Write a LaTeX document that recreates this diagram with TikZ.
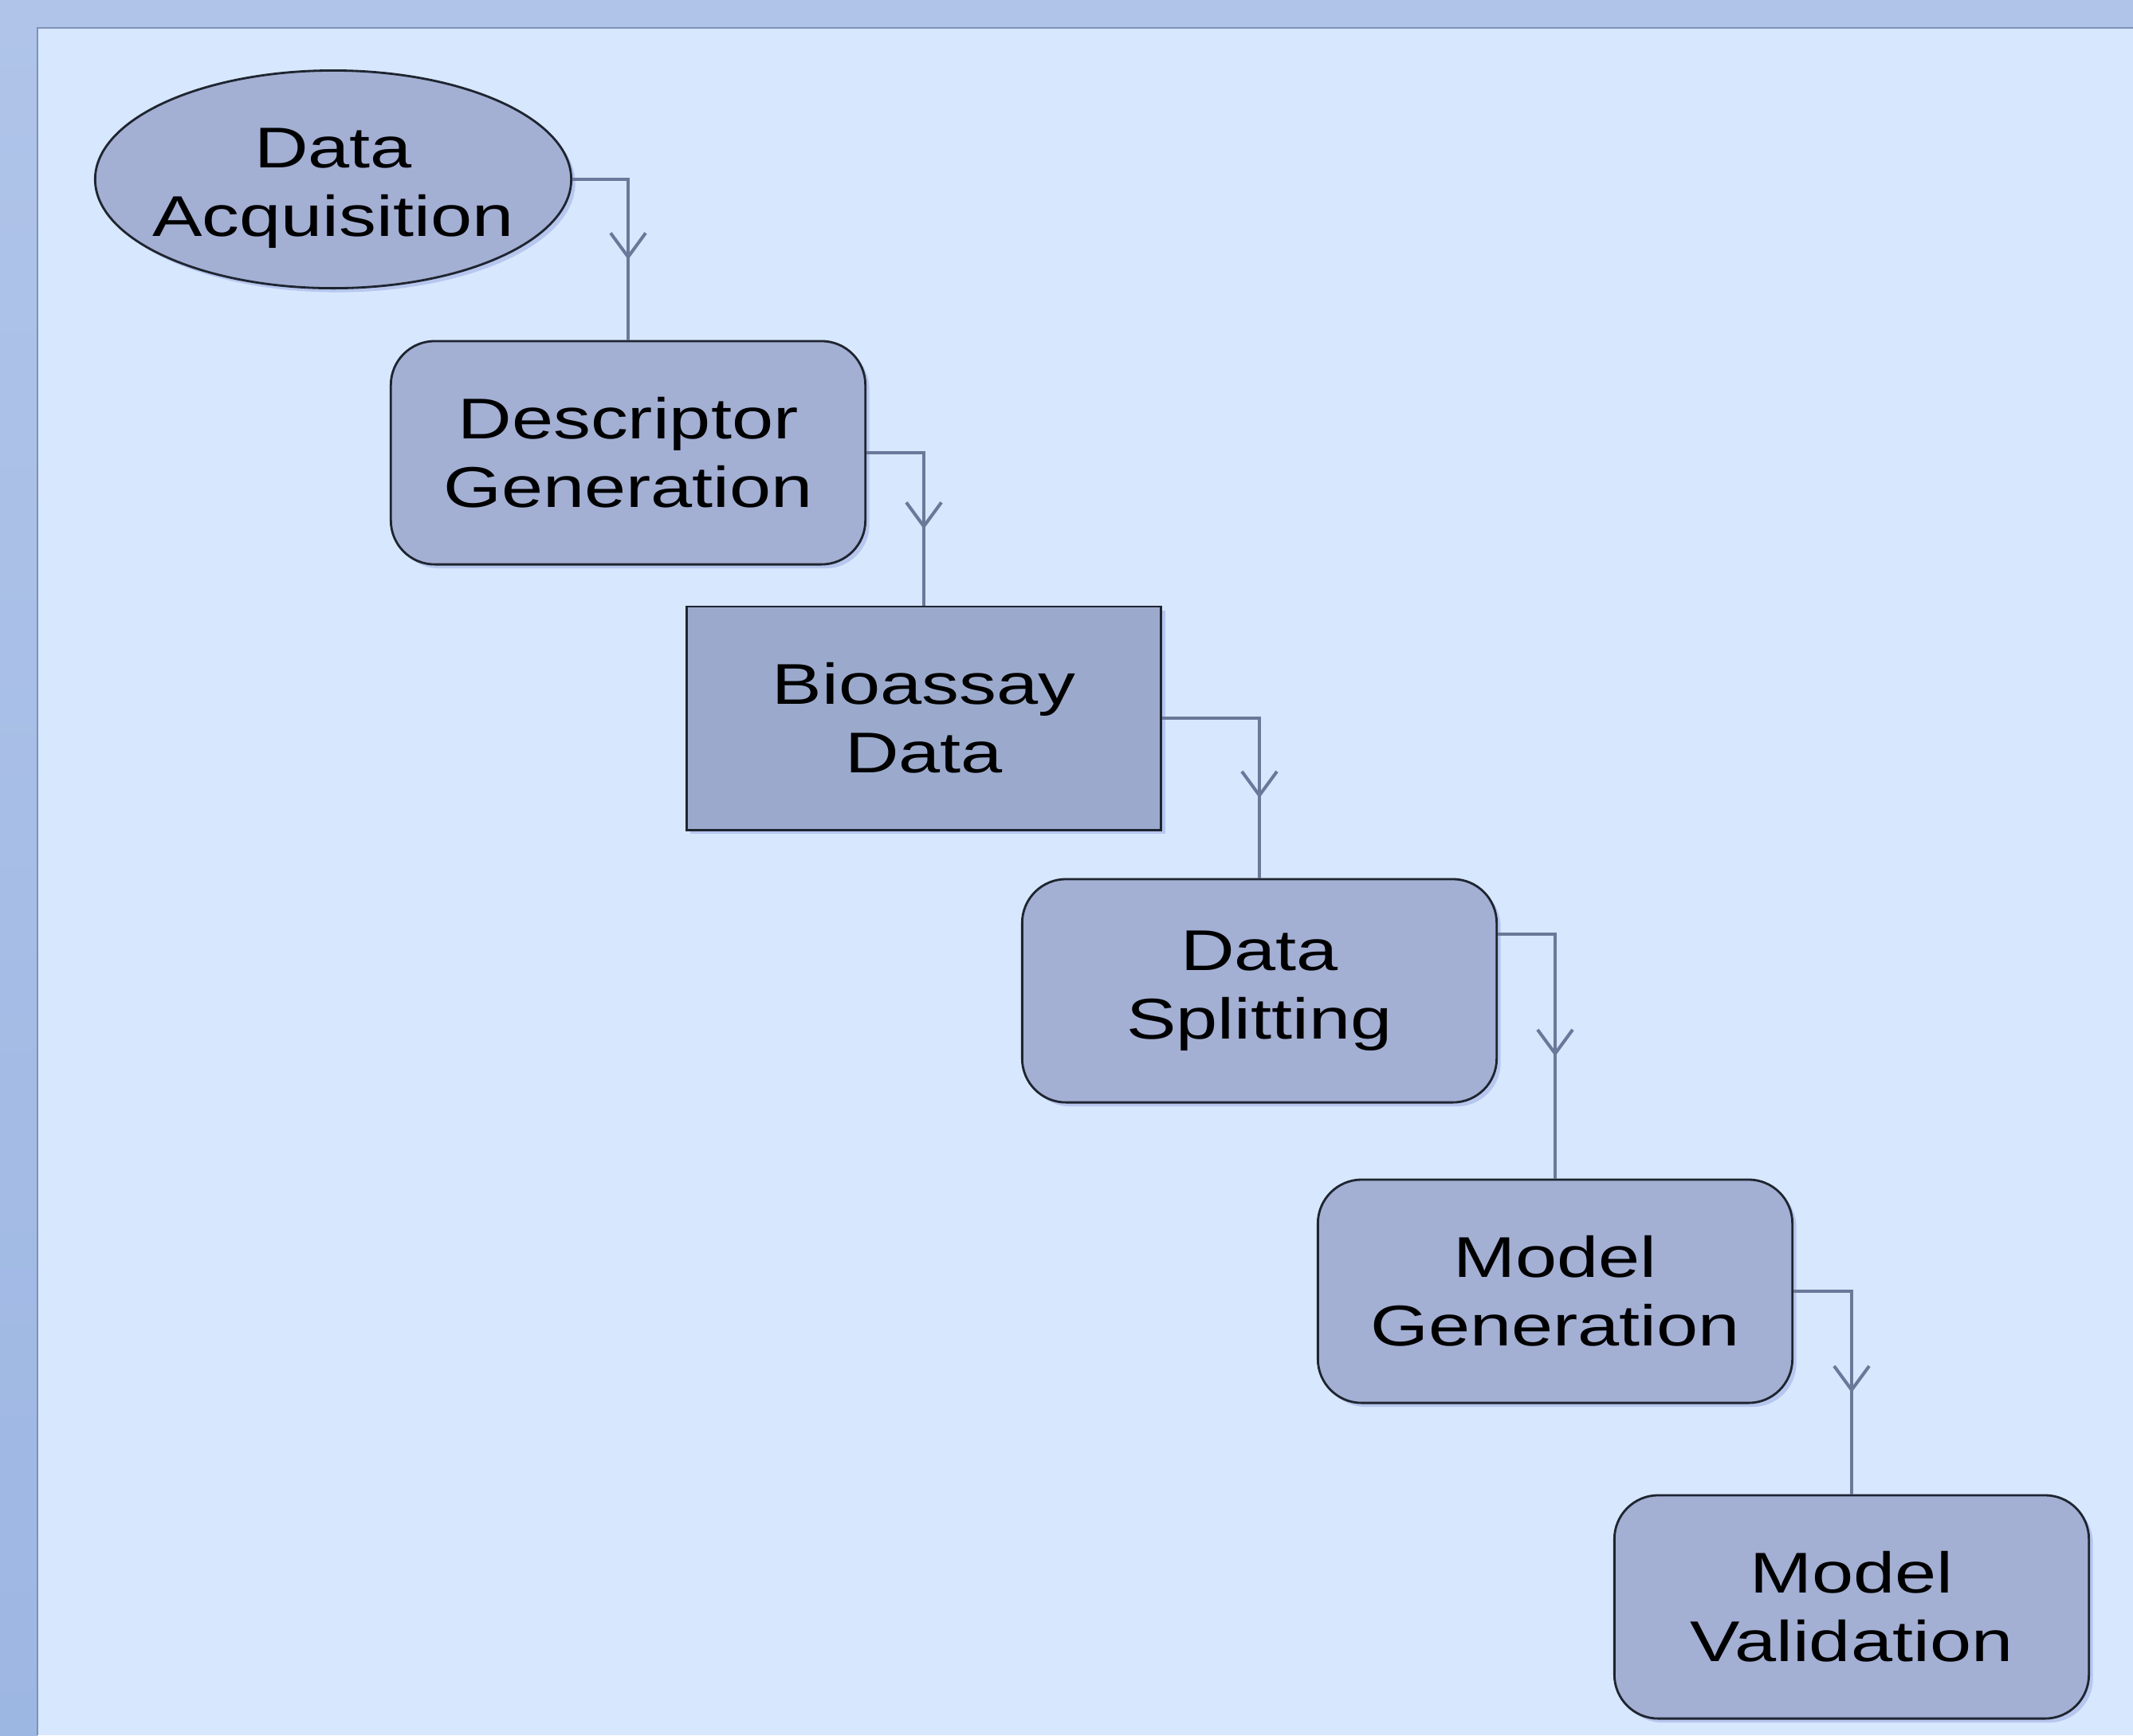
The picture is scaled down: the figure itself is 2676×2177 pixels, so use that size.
\documentclass[tikz,border=0pt]{standalone}
\usepackage{fontspec}
\setmainfont{Liberation Sans}[FakeStretch=1.3]
\usetikzlibrary{shapes.geometric,arrows.meta,calc,shadows}
\definecolor{outerc}{HTML}{B0C4E9}
\definecolor{outerd}{HTML}{9DB7E3}
\definecolor{panelc}{HTML}{D7E7FE}
\definecolor{nodec}{HTML}{A3AFD3}
\definecolor{rectc}{HTML}{9BAACC}
\definecolor{connc}{HTML}{6B7899}
\definecolor{edgec}{HTML}{1E2530}
\definecolor{shadowc}{HTML}{B6C6EE}
\begin{document}
\begin{tikzpicture}[x=0.01cm,y=-0.01cm,
  every node/.style={font=\fontsize{20.5}{24.5}\selectfont, align=center, text=black},
  basebox/.style={draw=edgec, line width=0.8pt, minimum width=5.95cm, minimum height=2.8cm, inner sep=0pt,
    drop shadow={shadow xshift=0.05cm, shadow yshift=-0.05cm, fill=shadowc, opacity=1}},
  roundbox/.style={basebox, fill=nodec, rounded corners=0.55cm},
  plainbox/.style={basebox, fill=rectc},
  ovalbox/.style={basebox, ellipse, fill=nodec, minimum width=5.97cm, minimum height=2.73cm, inner xsep=-0.3cm},
  conn/.style={draw=connc, line width=1.15pt},
  tip/.style={conn, -{Straight Barb[length=3mm,width=4.4mm]}}
]
\useasboundingbox (0,0) rectangle (2676,2177);
% background
\fill[outerc] (0,0) rectangle (2676,2177);
\shade[top color=outerc, bottom color=outerd] (0,0) rectangle (47,2177);
\fill[panelc] (47,35) rectangle (2676,2177);
\draw[color=outerd!80!black, line width=0.5pt] (47,2177) -- (47,35) -- (2676,35);

% nodes
\node[ovalbox]  (n1) at (418,225)   {\rule{0pt}{20.5pt}Data\\Acquisition};
\node[roundbox] (n2) at (788,568)   {Descriptor\\Generation};
\node[plainbox] (n3) at (1159,901)  {Bioassay\\Data};
\node[roundbox] (n4) at (1580,1243) {Data\\Splitting};
\node[roundbox] (n5) at (1951,1620) {Model\\Generation};
\node[roundbox] (n6) at (2323,2016) {Model\\Validation};

\coordinate (e4) at ($(n4.east)+(0,0.71cm)$);

% connectors
\draw[conn] (n1.east) -| (n2.north);
\coordinate (m1) at ($(n1.east -| n2.north)!0.5!(n2.north)$);
\draw[tip] (n1.east -| n2.north) -- (m1);

\draw[conn] (n2.east) -| (n3.north);
\coordinate (m2) at ($(n2.east -| n3.north)!0.5!(n3.north)$);
\draw[tip] (n2.east -| n3.north) -- (m2);

\draw[conn] (n3.east) -| (n4.north);
\coordinate (m3) at ($(n3.east -| n4.north)!0.5!(n4.north)$);
\draw[tip] (n3.east -| n4.north) -- (m3);

\draw[conn] (e4) -| (n5.north);
\coordinate (m4) at ($(e4 -| n5.north)!0.5!(n5.north)$);
\draw[tip] (e4 -| n5.north) -- (m4);

\draw[conn] (n5.east) -| (n6.north);
\coordinate (m5) at ($(n5.east -| n6.north)!0.5!(n6.north)$);
\draw[tip] (n5.east -| n6.north) -- (m5);
\end{tikzpicture}
\end{document}
